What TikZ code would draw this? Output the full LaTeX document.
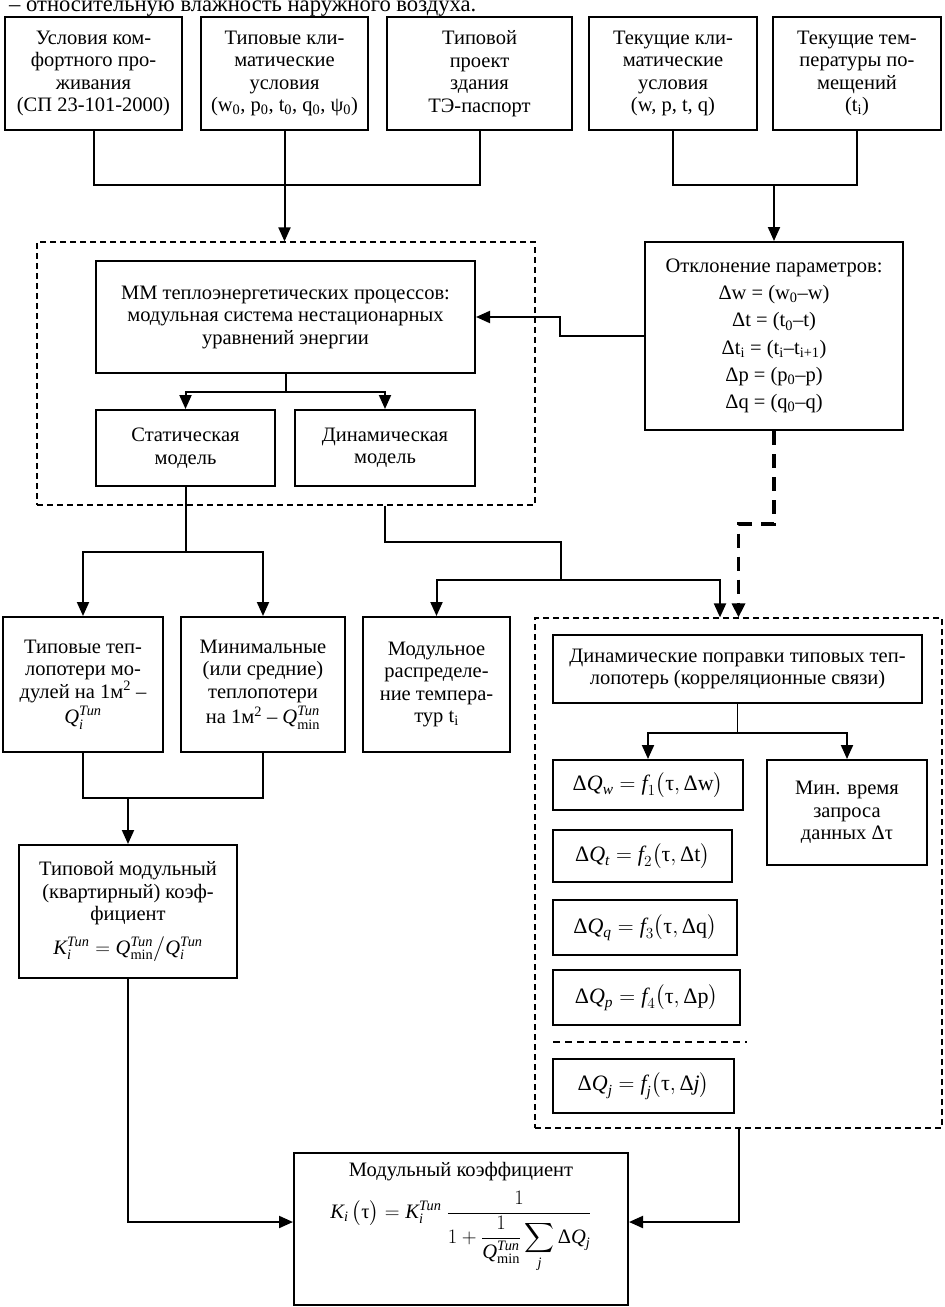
\RequirePackage{fix-cm}
\documentclass[tikz,border=0pt]{standalone}
\usepackage{amsmath}
\usepackage{fontspec}
\setmainfont{Liberation Serif}
\usetikzlibrary{arrows.meta,calc}
\newcommand\ti[1]{\text{\itshape #1}}
\newcommand\tx[1]{\text{\upshape #1}}
\begin{document}
\begin{tikzpicture}[x=1pt,y=-1pt,
  box/.style={draw, line width=2pt, inner sep=0pt, align=center, font=\fontsize{20.5}{22.5}\selectfont},
  mbox/.style={box, font=\fontsize{22}{24}\selectfont},
  txt/.style={inner sep=0pt, align=center, font=\fontsize{20.5}{22.5}\selectfont},
  dbox/.style={draw, line width=1.2pt, dash pattern=on 6pt off 4pt, inner sep=0pt},
  conn/.style={line width=2pt},
  arr/.style={conn, -{Triangle[length=14pt,width=12pt]}},
  thickdash/.style={line width=3.2pt, dash pattern=on 14pt off 9pt, -{Triangle[length=14pt,width=13pt]}},
  sepline/.style={line width=1.4pt, dash pattern=on 7pt off 5pt},
]
\useasboundingbox (0,0) rectangle (945,1307);

\node[anchor=base west, inner sep=0pt, font=\fontsize{22.6}{24}\selectfont] (toptext) at (9,11.5) {– относительную влажность наружного воздуха.};

% top row
\node[box,minimum width=177,minimum height=113] (b1) at (93.5,73.5) {Условия ком-\\фортного про-\\живания\\(СП 23-101-2000)};
\node[box,minimum width=167,minimum height=113] (b2) at (284.5,73.5) {Типовые кли-\\матические\\условия\\(w\textsubscript{0}, p\textsubscript{0}, t\textsubscript{0}, q\textsubscript{0}, ψ\textsubscript{0})};
\node[box,minimum width=185,minimum height=113] (b3) at (479.5,73.5) {Типовой\\проект\\здания\\ТЭ-паспорт};
\node[box,minimum width=168,minimum height=113] (b4) at (673,73.5) {Текущие кли-\\матические\\условия\\(w, p, t, q)};
\node[box,minimum width=168,minimum height=113] (b5) at (857,73.5) {Текущие тем-\\пературы по-\\мещений\\(t\textsubscript{i})};

% dashed group 1
\node[dbox,minimum width=498,minimum height=263] (d1) at (286,373.5) {};
\node[box,minimum width=379,minimum height=112] (mm) at (285.5,317) {ММ теплоэнергетических процессов:\\модульная система нестационарных\\уравнений энергии};
\node[box,minimum width=179,minimum height=76] (stat) at (185.5,448) {Статическая\\модель};
\node[box,minimum width=180,minimum height=76] (dyn) at (385,448) {Динамическая\\модель};

% deviation box
\node[box,minimum width=258,minimum height=188,font=\fontsize{20.5}{27.3}\selectfont] (otk) at (774,336) {Отклонение параметров:\\Δw = (w\textsubscript{0}–w)\\Δt = (t\textsubscript{0}–t)\\Δt\textsubscript{i} = (t\textsubscript{i}–t\textsubscript{i+1})\\Δp = (p\textsubscript{0}–p)\\Δq = (q\textsubscript{0}–q)};

% middle row
\node[box,minimum width=160,minimum height=135] (a) at (83,684.5) {Типовые теп-\\лопотери мо-\\дулей на 1м\textsuperscript{2} –\\[3pt]$\ti{Q}_{\ti{i}}^{\ti{Тип}}$};
\node[box,minimum width=164,minimum height=135] (b) at (263,684.5) {Минимальные\\(или средние)\\теплопотери\\[3pt]на 1м\textsuperscript{2} – $\ti{Q}_{\text{min}}^{\ti{Тип}}$};
\node[box,minimum width=147,minimum height=135] (c) at (436.5,684.5) {Модульное\\распределе-\\ние темпера-\\тур t\textsubscript{i}};
\node[box,minimum width=218,minimum height=133] (d) at (128,911.5) {Типовой модульный\\(квартирный) коэф-\\фициент\\[11pt]$\ti{K}_{\ti{i}}^{\ti{Тип}} = \ti{Q}_{\text{min}}^{\ti{Тип}}\big/\ti{Q}_{\ti{i}}^{\ti{Тип}}$};

% dashed group 2
\node[dbox,minimum width=407,minimum height=510] (d2) at (738.5,873) {};
\node[box,minimum width=369,minimum height=68] (corr) at (737.5,669) {Динамические поправки типовых теп-\\лопотерь (корреляционные связи)};
\node[mbox,minimum width=190,minimum height=50] (qw) at (648,785) {$\tx{Δ}\ti{Q}_{\ti{w}} = \ti{f}_{1}\bigl(\tx{τ}, \tx{Δw}\bigr)$};
\node[box,minimum width=160,minimum height=105] (mint) at (847,812.5) {Мин. время\\запроса\\данных Δτ};
\node[mbox,minimum width=179,minimum height=52] (qt) at (642.5,856) {$\tx{Δ}\ti{Q}_{\ti{t}} = \ti{f}_{2}\bigl(\tx{τ}, \tx{Δt}\bigr)$};
\node[mbox,minimum width=184,minimum height=55] (qq) at (645,927.5) {$\tx{Δ}\ti{Q}_{\ti{q}} = \ti{f}_{3}\bigl(\tx{τ}, \tx{Δq}\bigr)$};
\node[mbox,minimum width=187,minimum height=55] (qp) at (646.5,997.5) {$\tx{Δ}\ti{Q}_{\ti{p}} = \ti{f}_{4}\bigl(\tx{τ}, \tx{Δp}\bigr)$};
\draw[sepline] (553,1042) -- (747,1042);
\node[mbox,minimum width=181,minimum height=54] (qj) at (643.5,1086) {$\tx{Δ}\ti{Q}_{\ti{j}} = \ti{f}_{\ti{j}}\bigl(\tx{τ}, \tx{Δ}\ti{j}\bigr)$};

% bottom box
\node[box,minimum width=334,minimum height=152] (bot) at (461,1229) {};
\node[txt, anchor=north] (bottitle) at ([yshift=-10pt]bot.north) {Модульный коэффициент};
\node[txt, anchor=north] (botformula) at ([yshift=-10pt]bottitle.south) {$\ti{K}_{\ti{i}}\,\bigl(\tx{τ}\bigr) = \ti{K}_{\ti{i}}^{\ti{Тип}}\ \dfrac{1}{1+\dfrac{1}{\ti{Q}^{\ti{Тип}}_{\text{min}}}\displaystyle\sum_{\ti{j}} \tx{Δ}\ti{Q}_{\ti{j}}}$};

% connectors top
\coordinate (j1) at (284.5,185);
\draw[conn] (b1.south) |- (j1) -| (b3.south);
\draw[arr] (b2.south) -- (b2.south |- d1.north);
\coordinate (j2) at (774,185);
\draw[conn] (b4.south) |- (j2) -| (b5.south);
\draw[arr] (j2) -- (otk.north);

% otk -> mm
\coordinate (k1) at (560,336);
\coordinate (k2) at (560,317);
\draw[arr] (otk.west) -- (k1) -- (k2) -- (mm.east);

% mm -> models
\coordinate (k3) at (285.5,392);
\draw[conn] (mm.south) -- (k3);
\draw[arr] (k3) -| (stat.north);
\draw[arr] (k3) -| (dyn.north);

% static -> a, b
\coordinate (k4) at (185.5,552);
\draw[conn] (stat.south) -- (k4);
\draw[arr] (k4) -| (a.north);
\draw[arr] (k4) -| (b.north);

% group1 -> c, group2
\coordinate (k5) at (d1.south -| dyn.south);
\coordinate (k6) at (385,542);
\coordinate (k7) at (561,542);
\coordinate (k8) at (561,580);
\draw[conn] (k5) -- (k6) -- (k7) -- (k8);
\draw[arr] (k8) -| (c.north);
\draw[arr] (k8) -| ([xshift=-18.5pt]d2.north);

% otk -> group2 dashed
\coordinate (k10) at (738.5,524);
\draw[thickdash] (otk.south) |- (k10) -- (d2.north);

% corr -> qw, mint
\coordinate (k11) at (737.5,733);
\draw[conn, line width=1.2pt] (corr.south) -- (k11);
\draw[arr] (k11) -| (qw.north);
\draw[arr] (k11) -| (mint.north);

% a, b -> d
\coordinate (k12) at (128,798);
\draw[conn] (a.south) |- (k12) -| (b.south);
\draw[arr] (k12) -- (d.north);

% d, group2 -> bottom
\draw[arr] (d.south) |- ([yshift=7pt]bot.west);
\draw[arr] (d2.south) |- ([yshift=7pt]bot.east);
\end{tikzpicture}
\end{document}
